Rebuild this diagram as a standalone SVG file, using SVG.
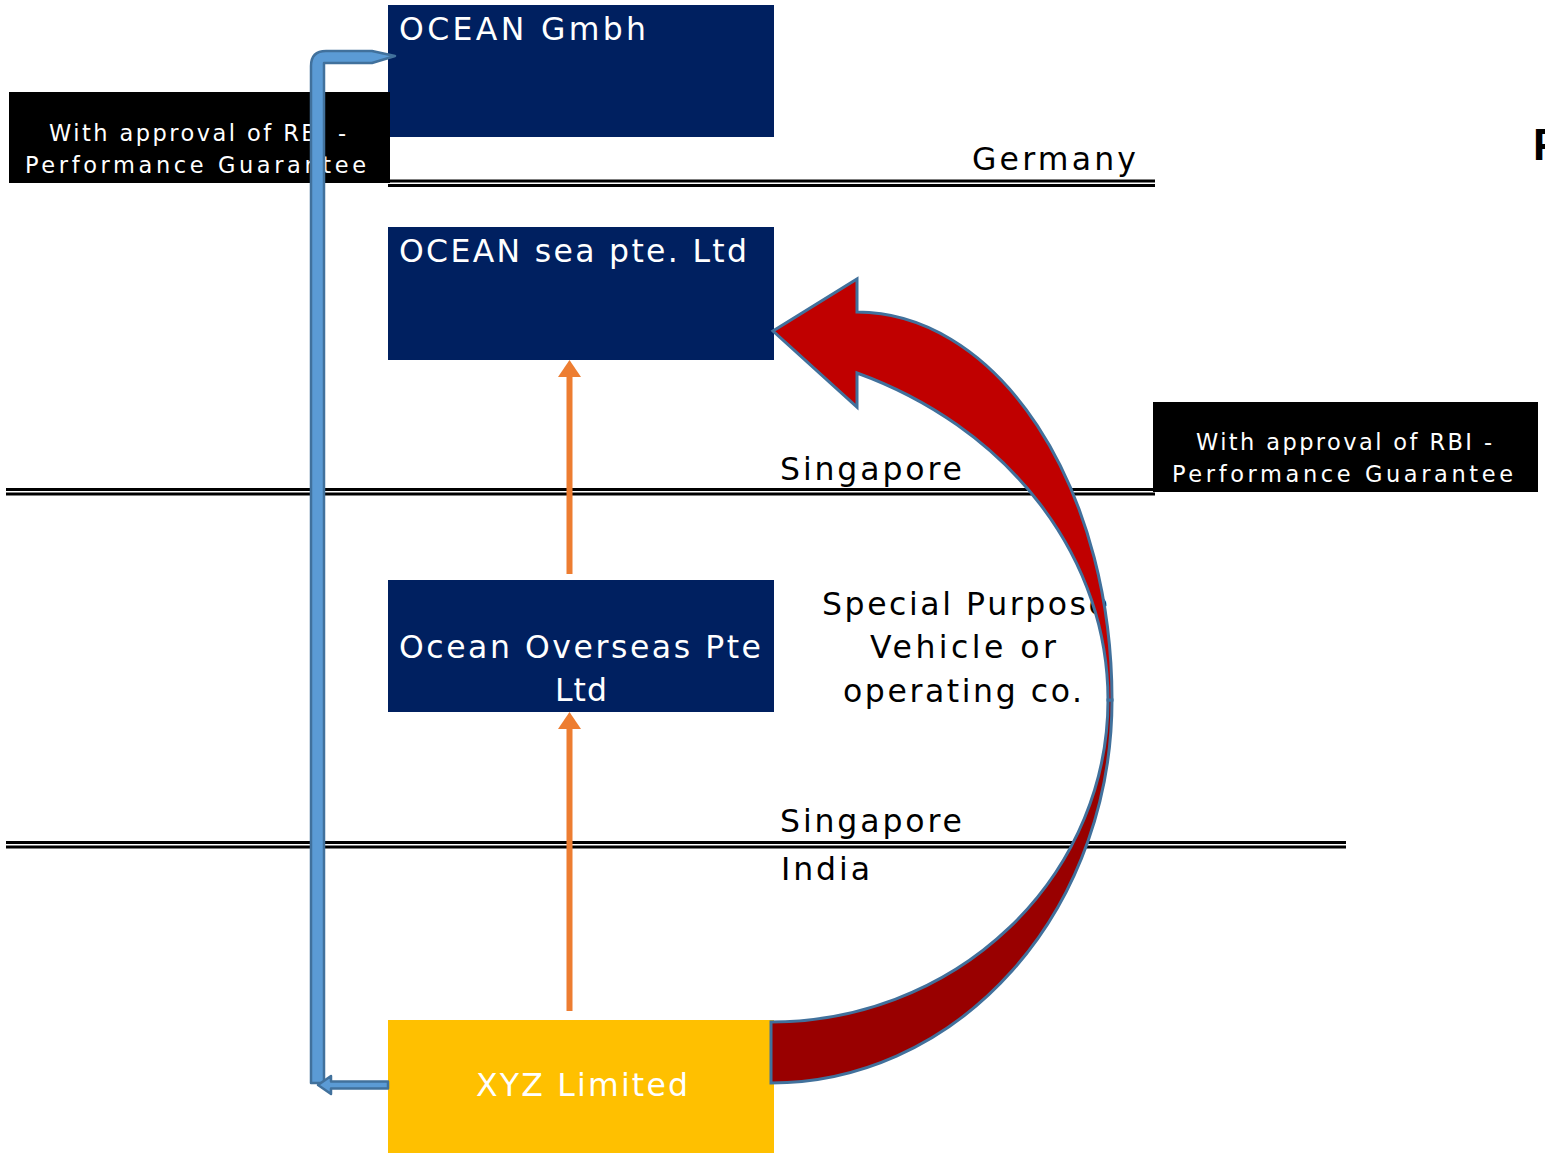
<svg xmlns="http://www.w3.org/2000/svg" width="1545" height="1153" viewBox="0 0 1545 1153">
<style>
.navy{fill:#002060}
.blk{fill:#000}
.t{font-family:"DejaVu Sans","Open Sans",sans-serif;font-size:31.5px;fill:#000}
.w{fill:#fff}
.s{font-family:"DejaVu Sans","Open Sans",sans-serif;font-size:22.5px;fill:#fff}
.dl{stroke:#000;stroke-width:3;fill:none}
.or{stroke:#ED7D31;stroke-width:6;fill:none}
.orh{fill:#ED7D31}
.bl{fill:#5B9BD5;stroke:#41719C;stroke-width:2.5;stroke-linejoin:round}
.red{fill:#C00000;stroke:#41719C;stroke-width:3;stroke-linejoin:miter}
.dred{fill:#990000;stroke:#41719C;stroke-width:3}
</style>
<rect width="1545" height="1153" fill="#fff"/>
<g id="borders">
<line class="dl" x1="388" y1="181" x2="1155" y2="181"/>
<line class="dl" x1="388" y1="185.5" x2="1155" y2="185.5"/>
<line class="dl" x1="6" y1="489.5" x2="1155" y2="489.5"/>
<line class="dl" x1="6" y1="494" x2="1155" y2="494"/>
<line class="dl" x1="6" y1="842.5" x2="1346" y2="842.5"/>
<line class="dl" x1="6" y1="847" x2="1346" y2="847"/>
</g>
<g id="labels">
<text class="t" x="972" y="170" textLength="164" lengthAdjust="spacing">Germany</text>
<text class="t" x="780" y="480" textLength="182" lengthAdjust="spacing">Singapore</text>
<text class="t" x="780" y="832" textLength="182" lengthAdjust="spacing">Singapore</text>
<text class="t" x="781" y="880" textLength="89" lengthAdjust="spacing">India</text>
<text class="t" x="822" y="615" textLength="286" lengthAdjust="spacing">Special Purpose</text>
<text class="t" x="870" y="658" textLength="186" lengthAdjust="spacing">Vehicle or</text>
<text class="t" x="843" y="702" textLength="239" lengthAdjust="spacing">operating co.</text>
<text x="1533" y="160" font-family="Liberation Sans, Arial, sans-serif" font-weight="bold" font-size="44" fill="#000">F</text>
</g>
<g id="ocean-gmbh">
<rect class="navy" x="388" y="5" width="386" height="132"/>
<text class="t w" x="399" y="40" textLength="247" lengthAdjust="spacing">OCEAN Gmbh</text>
</g>
<g id="rbi-left">
<rect class="blk" x="9" y="92" width="381" height="91"/>
<text class="s" x="49" y="141" textLength="297" lengthAdjust="spacing">With approval of RBI -</text>
<text class="s" x="25" y="173" textLength="341" lengthAdjust="spacing">Performance  Guarantee</text>
</g>
<g id="ocean-sea">
<rect class="navy" x="388" y="227" width="386" height="133"/>
<text class="t w" x="399" y="262" textLength="348" lengthAdjust="spacing">OCEAN sea pte. Ltd</text>
</g>
<g id="rbi-right">
<rect class="blk" x="1153" y="402" width="385" height="90"/>
<text class="s" x="1196" y="450" textLength="296" lengthAdjust="spacing">With approval of RBI -</text>
<text class="s" x="1172" y="482" textLength="341" lengthAdjust="spacing">Performance  Guarantee</text>
</g>
<g id="ocean-overseas">
<rect class="navy" x="388" y="580" width="386" height="132"/>
<text class="t w" x="399" y="658" textLength="362" lengthAdjust="spacing">Ocean Overseas Pte</text>
<text class="t w" x="555" y="701" textLength="52" lengthAdjust="spacing">Ltd</text>
</g>
<g id="xyz">
<rect x="388" y="1020" width="386" height="133" fill="#FFC000"/>
<text class="t w" x="476" y="1096" textLength="212" lengthAdjust="spacing">XYZ Limited</text>
</g>
<g id="connectors">
<line class="or" x1="569.5" y1="574" x2="569.5" y2="374"/>
<polygon class="orh" points="558,377 569.5,360 581,377"/>
<line class="or" x1="569.5" y1="1011" x2="569.5" y2="726"/>
<polygon class="orh" points="558,729 569.5,712 581,729"/>
<path class="bl" d="M311,1083 V66 Q311,51 326,51 H372 L395,56 L372,63 H324 V1083 Z"/>
<path class="bl" d="M388,1081.5 H331 V1076 L318,1085 L331,1094 V1088.5 H388 Z"/>
<path class="dred" d="M1112,700 A341,383 0 0 1 771,1083 L771,1022 A337,322 0 0 0 1108,700 Z"/>
<path class="red" d="M857,312 A255,388 0 0 1 1112,700 L1108,700 A408,354 0 0 0 857,373 L857,407 L773,331 L857,279 Z"/>
</g>
</svg>
